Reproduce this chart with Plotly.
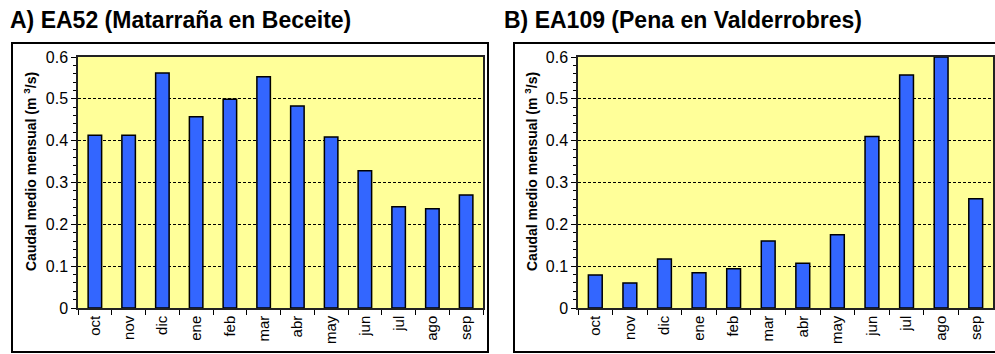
import plotly.graph_objects as go

# Mean monthly discharge (m3/s), hydrological year Oct-Sep
meses = ["oct", "nov", "dic", "ene", "feb", "mar", "abr", "may", "jun", "jul", "ago", "sep"]
caudal_ea52 = [0.413, 0.413, 0.562, 0.457, 0.499, 0.553, 0.483, 0.409, 0.328, 0.242, 0.237, 0.270]
caudal_ea109 = [0.079, 0.060, 0.117, 0.084, 0.094, 0.160, 0.107, 0.175, 0.410, 0.557, 0.600, 0.261]
titulos = ["A) EA52 (Matarraña en Beceite)", "B) EA109 (Pena en Valderrobres)"]
eje_y_titulo = "Caudal medio mensual (m <sup>3</sup>/s)"

W, H = 995, 354
FONT = "Liberation Sans, Arial, sans-serif"
BAR_COLOR = "#3366FF"
BG = "#FFFF99"


def px(x):
    return x / W


def py(y):
    return 1 - y / H


fig = go.Figure()
for i, vals in enumerate([caudal_ea52, caudal_ea109]):
    sfx = "" if i == 0 else str(i + 1)
    fig.add_trace(go.Bar(
        x=meses, y=vals, xaxis="x" + sfx, yaxis="y" + sfx,
        marker=dict(color=BAR_COLOR, line=dict(color="black", width=1.5)),
        showlegend=False, hoverinfo="x+y",
    ))

y_dom = [py(308), py(57)]
x_doms = [[px(78), px(483)], [px(578), px(993)]]

axis_common_x = dict(
    type="category", showgrid=False, ticks="outside", ticklen=5, tickwidth=1,
    tickcolor="black", tickson="boundaries", tickangle=-90, automargin=False,
    showline=True, mirror=True, linecolor="#222", linewidth=1.5,
    tickfont=dict(family=FONT, size=15, color="black"), fixedrange=True,
)
axis_common_y = dict(
    range=[0, 0.6], dtick=0.1, tick0=0, ticks="outside", ticklen=5, tickwidth=1,
    tickcolor="black", showgrid=True, gridcolor="black", gridwidth=1,
    griddash="3px,2px", zeroline=False, automargin=False,
    showline=True, mirror=True, linecolor="#222", linewidth=1.5,
    minor=dict(dtick=0.02, ticks="outside", ticklen=3, tickcolor="black", showgrid=False),
    tickfont=dict(family=FONT, size=16, color="black"), fixedrange=True,
)

fig.update_layout(
    width=W, height=H, autosize=False,
    margin=dict(l=0, r=0, t=0, b=0, pad=0),
    paper_bgcolor="white", plot_bgcolor=BG,
    bargap=0.6,
    xaxis=dict(domain=x_doms[0], anchor="y", **axis_common_x),
    yaxis=dict(domain=y_dom, anchor="x", **axis_common_y),
    xaxis2=dict(domain=x_doms[1], anchor="y2", **axis_common_x),
    yaxis2=dict(domain=y_dom, anchor="x2", **axis_common_y),
)

# outer frames around each panel
for x0, x1 in [(12, 488), (514, 1000)]:
    fig.add_shape(type="rect", xref="paper", yref="paper",
                  x0=px(x0), x1=px(x1), y0=py(352), y1=py(43),
                  line=dict(color="black", width=2), fillcolor="rgba(0,0,0,0)")

# panel titles
for x, t in zip([8, 502], titulos):
    fig.add_annotation(text="<b>%s</b>" % t, x=px(x), y=py(20), xref="paper", yref="paper",
                       xanchor="left", yanchor="middle", showarrow=False,
                       font=dict(family=FONT, size=23, color="black"))

# y-axis titles
for x in [30, 531]:
    fig.add_annotation(text="<b>%s</b>" % eje_y_titulo, x=px(x), y=py(172), xref="paper", yref="paper",
                       xanchor="center", yanchor="middle", showarrow=False, textangle=-90,
                       font=dict(family=FONT, size=14, color="black"))

fig.write_html("out.html")
